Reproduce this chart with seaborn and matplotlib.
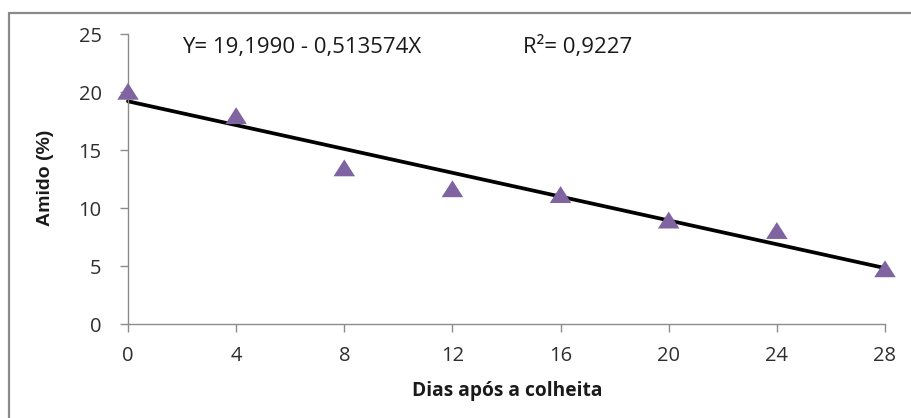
import matplotlib
matplotlib.use("Agg")
import matplotlib.pyplot as plt
from matplotlib.lines import Line2D
import numpy as np
import pandas as pd
import seaborn as sns

# Starch content over storage time
dias = [0, 4, 8, 12, 16, 20, 24, 28]
amido = [20.0, 17.9, 13.4, 11.6, 11.1, 8.9, 8.0, 4.7]

# Fitted linear model reported on the chart
intercepto = 19.1990
inclinacao = -0.513574
r2 = 0.9227

x_ticks = [0, 4, 8, 12, 16, 20, 24, 28]
y_ticks = [0, 5, 10, 15, 20, 25]

sns.set_theme(style="white")
plt.rcParams["font.family"] = ["Open Sans", "DejaVu Sans"]

W, H = 911, 418
fig = plt.figure(figsize=(W / 100, H / 100), dpi=100)
fig.patch.set_facecolor("white")

ax = fig.add_axes([128 / W, 1 - 324 / H, (885 - 128) / W, (324 - 34) / H])

df = pd.DataFrame({"dias": dias, "amido": amido})
x_fit = np.array([min(dias), max(dias)], dtype=float)
fit = pd.DataFrame({"dias": x_fit, "amido": intercepto + inclinacao * x_fit})

# Slightly flattened triangle marker
tri = [(-1.0, -0.72), (1.0, -0.72), (0.0, 0.85), (-1.0, -0.72)]

sns.lineplot(data=fit, x="dias", y="amido", ax=ax, color="black",
             linewidth=2.7, clip_on=False, zorder=2)
sns.scatterplot(data=df, x="dias", y="amido", ax=ax, marker=tri, s=240,
                color="#8064A2", edgecolor="none", linewidth=0,
                clip_on=False, zorder=3)

ax.set_xlim(0, 28)
ax.set_ylim(0, 25)
ax.set_xticks(x_ticks)
ax.set_yticks(y_ticks)
ax.set_xticklabels([str(v) for v in x_ticks])
ax.set_yticklabels([str(v) for v in y_ticks])

for side in ("top", "right"):
    ax.spines[side].set_visible(False)
for side in ("left", "bottom"):
    ax.spines[side].set_color("#8c8c8c")
    ax.spines[side].set_linewidth(1.0)

ax.tick_params(axis="both", which="major", direction="out", length=6,
               width=1.0, color="#8c8c8c", labelsize=14.5, labelcolor="#2e2e2e",
               bottom=True, left=True)
ax.tick_params(axis="x", pad=10)
ax.tick_params(axis="y", pad=13)

ax.set_xlabel("")
ax.set_ylabel("")
fig.text(507 / W, 1 - 391 / H, "Dias após a colheita", ha="center", va="center",
         fontsize=13.8, fontweight="bold", color="#1a1a1a")
fig.text(46 / W, 1 - 178 / H, "Amido (%)", ha="center", va="center",
         rotation=90, fontsize=14, fontweight="bold", color="#1a1a1a",
         family=["Liberation Sans", "DejaVu Sans"])

eq = f"Y= {intercepto:.4f} - {abs(inclinacao):.6f}X".replace(".", ",")
fig.text(182 / W, 1 - 48 / H, eq, ha="left", va="center", fontsize=16,
         color="#1a1a1a")
fig.text(523 / W, 1 - 47 / H, f"R²= {r2:.4f}".replace(".", ","), ha="left",
         va="center", fontsize=16, color="#1a1a1a")

# Outer chart-area border
fig.add_artist(Line2D([8.5 / W, 8.5 / W], [0, 1 - 13 / H], transform=fig.transFigure,
                      color="#8a8a8a", linewidth=1.6))
fig.add_artist(Line2D([8.5 / W, 1], [1 - 13 / H, 1 - 13 / H], transform=fig.transFigure,
                      color="#8a8a8a", linewidth=1.6))

fig.savefig("out.png", dpi=100)
